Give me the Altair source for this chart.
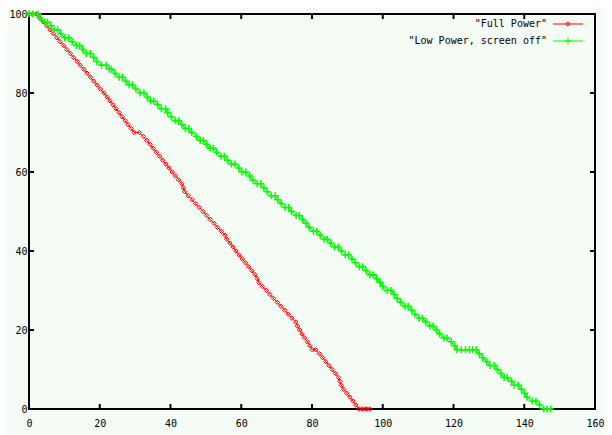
import altair as alt
import pandas as pd

# ---------------- data ----------------
full_t = [0, 1, 2, 3.0, 4.0, 5.0, 6.0, 6.9, 7.9, 8.8, 9.8, 10.7, 11.7, 12.6, 13.6, 14.5,
          15.5, 16.4, 17.4, 18.3, 19.3, 20.2, 21.2, 22.1, 22.9, 23.8, 24.6, 25.5, 26.3,
          27.2, 28.0, 28.9, 29.7, 31.2, 32.3, 33.3, 34.2, 35.1, 36.0, 36.9, 37.8, 38.7,
          39.6, 40.5, 41.4, 42.3, 43.2, 43.6, 44.0, 45.0, 46.1, 47.1, 48.1, 49.2, 50.2,
          51.2, 52.3, 53.3, 54.4, 55.4, 55.9, 56.8, 57.7, 58.5, 59.4, 60.3, 61.2, 62.1,
          63.0, 63.9, 64.5, 65.0, 66.0, 67.1, 68.1, 69.1, 70.2, 71.2, 72.3, 73.3, 74.3,
          75.4, 75.9, 76.5, 77.2, 77.9, 78.7, 79.4, 80.1, 81.0, 82.1, 83.0, 83.9, 84.8,
          85.7, 86.6, 87.5, 87.9, 88.3, 88.9, 89.8, 90.7, 91.6, 92.4, 93.3, 94.1, 94.9,
          95.6, 96.4]
full_pct = [100, 100, 100, 99, 98, 97, 96, 95, 94, 93, 92, 91, 90, 89, 88, 87,
            86, 85, 84, 83, 82, 81, 80, 79, 78, 77, 76, 75, 74,
            73, 72, 71, 70, 70, 69, 68, 67, 66, 65, 64, 63, 62,
            61, 60, 59, 58, 57, 56, 55, 54, 53, 52, 51, 50, 49,
            48, 47, 46, 45, 44, 43, 42, 41, 40, 39, 38, 37, 36,
            35, 34, 33, 32, 31, 30, 29, 28, 27, 26, 25, 24, 23,
            22, 21, 20, 19, 18, 17, 16, 15, 15, 14, 13, 12, 11,
            10, 9, 8, 7, 6, 5, 4, 3, 2, 1, 0, 0, 0,
            0, 0]

low_t = [0, 1.1, 2.5, 3.1, 4.5, 5.2, 6.2, 7.1, 8.1, 9.0, 10.1, 11.2, 12.2, 13.4, 14.3,
         15.2, 16.2, 17.3, 18.3, 19.2, 20.5, 21.8, 22.7, 23.3, 24.3, 25.5, 26.4, 27.4,
         28.3, 29.2, 30.2, 31.4, 32.5, 33.4, 34.4, 35.3, 36.4, 37.4, 38.6, 39.2, 40.2,
         41.4, 42.3, 43.2, 44.2, 45.1, 46.0, 47.3, 48.4, 49.3, 50.2, 51.2, 52.1, 53.0,
         54.3, 55.2, 56.1, 57.2, 58.2, 59.3, 60.2, 61.3, 62.4, 63.3, 64.5, 65.5, 66.4,
         67.3, 68.5, 69.6, 70.3, 71.3, 72.4, 73.4, 74.2, 75.5, 76.4, 77.3, 78.3, 79.2,
         80.4, 81.3, 82.3, 83.4, 84.3, 85.3, 86.4, 87.4, 88.3, 89.4, 90.3, 91.3, 92.3,
         93.4, 94.3, 95.3, 96.4, 97.3, 98.3, 99.3, 100.0, 101.3, 102.3, 103.2, 104.1,
         105.1, 106.3, 107.2, 108.2, 109.1, 110.3, 111.2, 112.2, 113.3, 114.2, 115.2,
         116.1, 117.3, 118.2, 119.4, 120.3, 121.0, 122.2, 123.4, 124.5, 125.4, 126.4,
         127.3, 128.2, 129.4, 130.3, 131.5, 132.4, 133.4, 134.3, 135.2, 136.4, 137.1,
         138.3, 139.2, 140.1, 140.8, 142.2, 143.3, 144.3, 145.5, 146.5, 147.4]
low_pct = [100, 100, 100, 99, 98, 98, 97, 96, 96, 95, 94, 94, 93, 92, 92,
           91, 90, 90, 89, 88, 87, 87, 86, 86, 85, 84, 84, 83,
           82, 82, 81, 80, 80, 79, 78, 78, 77, 76, 76, 75, 74,
           73, 73, 72, 71, 71, 70, 69, 68, 68, 67, 66, 66, 65,
           64, 64, 63, 62, 62, 61, 60, 60, 59, 58, 57, 57, 56,
           55, 54, 54, 53, 52, 51, 51, 50, 49, 49, 48, 47, 46,
           45, 45, 44, 43, 43, 42, 41, 41, 40, 39, 39, 38, 37,
           36, 36, 35, 34, 34, 33, 32, 31, 30, 30, 29, 28,
           27, 26, 26, 25, 24, 23, 23, 22, 21, 21, 20,
           19, 18, 18, 17, 16, 15, 15, 15, 15, 15, 15,
           14, 13, 12, 11, 11, 10, 9, 8, 8, 7, 6,
           6, 5, 4, 3, 2, 2, 1, 0, 0, 0]

x_ticks = [0, 20, 40, 60, 80, 100, 120, 140, 160]
y_ticks = [0, 20, 40, 60, 80, 100]
inner_x_ticks = [20, 40, 60, 80, 100, 120, 140]
inner_y_ticks = [20, 40, 60, 80]
legend_labels = ['"Full Power"', '"Low Power, screen off"']

# ---------------- chart ----------------
W, H = 566, 395
FONT = "DejaVu Sans Mono"
RED = "#ff0000"
GREEN = "#00ff00"
PLUS = "M-1,0L1,0M0,-1L0,1"

full_df = pd.DataFrame({"t": full_t, "pct": full_pct})
low_df = pd.DataFrame({"t": low_t, "pct": low_pct})
xt_df = pd.DataFrame({"t": inner_x_ticks})
yt_df = pd.DataFrame({"pct": inner_y_ticks})
leg1 = pd.DataFrame({"label": [legend_labels[0]]})
leg2 = pd.DataFrame({"label": [legend_labels[1]]})

xs = alt.Scale(domain=[0, 160], nice=False, zero=False)
ys = alt.Scale(domain=[0, 100], nice=False, zero=False)

xaxis = alt.Axis(values=x_ticks, ticks=False, domain=False, grid=False, title=None,
                 labelFont=FONT, labelFontSize=10, labelColor="black", labelPadding=9,
                 labelFlush=False, labelOverlap=False)
yaxis = alt.Axis(values=y_ticks, ticks=False, domain=False, grid=False, title=None,
                 labelFont=FONT, labelFontSize=10, labelColor="black", labelPadding=2,
                 labelFlush=False, labelOverlap=False)

X = alt.X("t:Q", scale=xs, axis=xaxis)
Y = alt.Y("pct:Q", scale=ys, axis=yaxis)

full_line = alt.Chart(full_df).mark_line(color=RED, strokeWidth=1).encode(x=X, y=Y)
full_pts = alt.Chart(full_df).mark_point(shape="diamond", filled=False, color=RED,
                                         size=20, strokeWidth=1, opacity=1).encode(x=X, y=Y)
low_line = alt.Chart(low_df).mark_line(color=GREEN, strokeWidth=1).encode(x=X, y=Y)
low_pts = alt.Chart(low_df).mark_point(shape=PLUS, filled=False, color=GREEN,
                                       size=49, strokeWidth=1.5, opacity=1).encode(x=X, y=Y)

tick_style = dict(color="black", strokeWidth=2)
bottom_ticks = alt.Chart(xt_df).mark_rule(**tick_style).encode(
    x=X, y=alt.value(H), y2=alt.value(H - 5))
top_ticks = alt.Chart(xt_df).mark_rule(**tick_style).encode(
    x=X, y=alt.value(0), y2=alt.value(5))
left_ticks = alt.Chart(yt_df).mark_rule(**tick_style).encode(
    y=Y, x=alt.value(0), x2=alt.value(5))
right_ticks = alt.Chart(yt_df).mark_rule(**tick_style).encode(
    y=Y, x=alt.value(W), x2=alt.value(W - 5))

text_style = dict(align="right", baseline="middle", font=FONT, fontSize=10, color="black")
leg_text1 = alt.Chart(leg1).mark_text(**text_style).encode(
    x=alt.value(W - 48), y=alt.value(10), text="label:N")
leg_text2 = alt.Chart(leg2).mark_text(**text_style).encode(
    x=alt.value(W - 48), y=alt.value(27), text="label:N")
leg_line1 = alt.Chart(leg1).mark_rule(color=RED, strokeWidth=1).encode(
    x=alt.value(W - 42), x2=alt.value(W - 12), y=alt.value(10))
leg_line2 = alt.Chart(leg2).mark_rule(color=GREEN, strokeWidth=1).encode(
    x=alt.value(W - 42), x2=alt.value(W - 12), y=alt.value(27))
leg_pt1 = alt.Chart(leg1).mark_point(shape="diamond", filled=False, color=RED, size=20,
                                     strokeWidth=1, opacity=1).encode(
    x=alt.value(W - 27), y=alt.value(10))
leg_pt2 = alt.Chart(leg2).mark_point(shape=PLUS, filled=False, color=GREEN, size=49,
                                     strokeWidth=1, opacity=1).encode(
    x=alt.value(W - 27), y=alt.value(27))

chart = alt.layer(
    full_line, full_pts, low_line, low_pts,
    bottom_ticks, top_ticks, left_ticks, right_ticks,
    leg_text1, leg_text2, leg_line1, leg_line2, leg_pt1, leg_pt2,
).properties(
    width=W, height=H,
    autosize=alt.AutoSizeParams(type="none"),
    padding={"left": 21, "top": 6, "right": 9, "bottom": 26},
    background="#f5fbf5",
).configure_view(
    stroke="black", strokeWidth=2,
)

chart.save("out.html", embed_options={"renderer": "svg", "actions": False})
